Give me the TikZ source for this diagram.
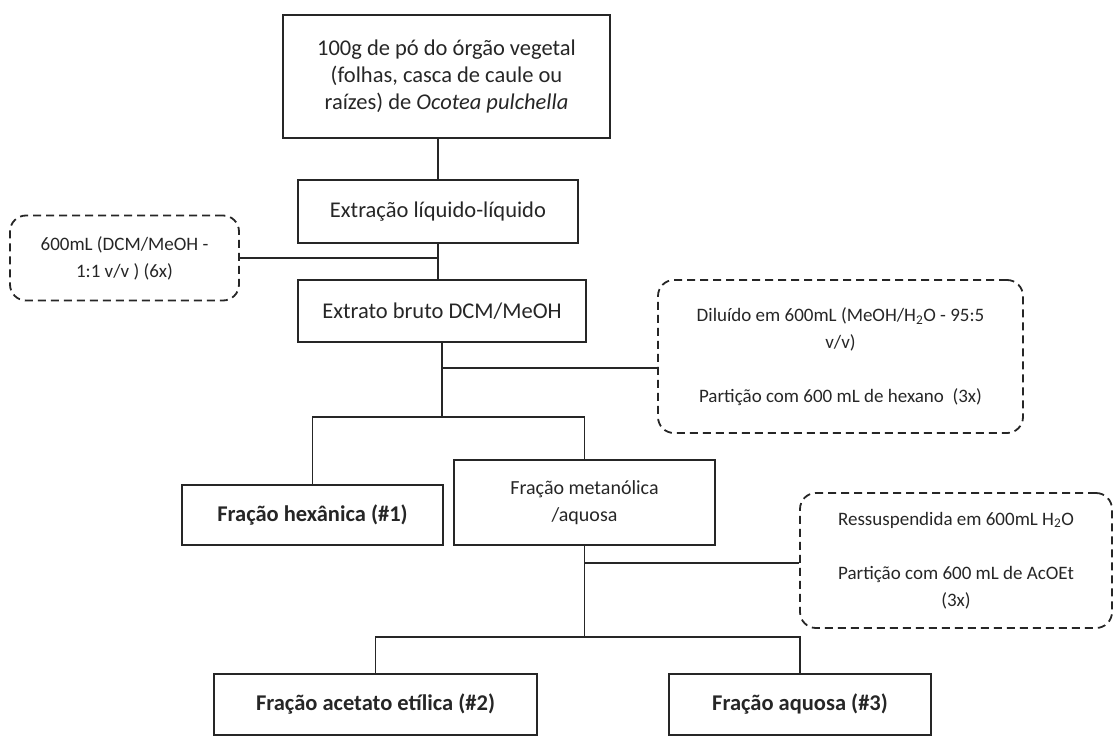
\documentclass[tikz,border=0pt]{standalone}
\usepackage{fontspec}
\setmainfont{Carlito}
\usetikzlibrary{positioning,calc}
\tikzset{
  stepbox/.style={draw=black!85, line width=1.4pt, align=center, inner sep=0pt,
    text=black!85, font=\fontsize{22.5}{27}\selectfont},
  notebox/.style={draw=black!85, line width=1.8pt, dash pattern=on 8pt off 5pt,
    rounded corners=16pt, align=center, inner sep=0pt, text=black!85,
    font=\fontsize{19}{27}\selectfont},
  link/.style={draw=black!85, line width=1.4pt},
}

\begin{document}
\begin{tikzpicture}[x=1pt, y=-1pt]
    \useasboundingbox (0,0) rectangle (1114,736);
    % main steps
    \node[stepbox, minimum width=327pt, minimum height=123pt] (sample) at (446.5,76.5)
      {100g de pó do órgão vegetal\\(folhas, casca de caule ou\\raízes) de \textit{Ocotea pulchella}};
    \node[stepbox, minimum width=280pt, minimum height=63pt] (extr) at (438,211.5)
      {Extração líquido-líquido};
    \node[stepbox, minimum width=288pt, minimum height=62pt] (crude) at (442,311)
      {Extrato bruto DCM/MeOH};
    \node[stepbox, minimum width=261pt, minimum height=60pt] (hex) at (312.5,515)
      {\textbf{Fração hexânica (\#1)}};
    \node[stepbox, minimum width=261pt, minimum height=85pt,
      font=\fontsize{20}{27}\selectfont] (meth) at (584.5,502.5)
      {Fração metanólica\\/aquosa};
    \node[stepbox, minimum width=323pt, minimum height=61pt] (acet) at (375.5,704.5)
      {\textbf{Fração acetato etílica (\#2)}};
    \node[stepbox, minimum width=262pt, minimum height=61pt] (aq) at (800,704.5)
      {\textbf{Fração aquosa (\#3)}};
    % conditions
    \node[notebox, minimum width=229pt, minimum height=85pt] (solv) at (124.5,258)
      {600mL (DCM/MeOH -\\1:1 v/v ) (6x)};
    \node[notebox, minimum width=365pt, minimum height=153pt] (part1) at (840.5,356.5)
      {Diluído em 600mL (MeOH/H\textsubscript{2}O - 95:5\\v/v)\\[27pt]Partição com 600 mL de hexano\ \ (3x)};
    \node[notebox, minimum width=312pt, minimum height=135pt] (part2) at (956,560.5)
      {Ressuspendida em 600mL H\textsubscript{2}O\\[27pt]Partição com 600 mL de AcOEt\\(3x)};
    % junctions
    \coordinate (j2) at (442,368);
    \coordinate (b1) at (442,417);
    \coordinate (j3) at (584.5,563);
    \coordinate (b2) at (584.5,637);
    % connectors
    \draw[link] (extr.north |- sample.south) -- (extr.north);
    \draw[link] (extr.south) -- (extr.south |- crude.north);
    \draw[link] (solv.east) -- (solv.east -| extr.south);
    \draw[link] (crude.south) -- (b1);
    \draw[link] (j2) -- (j2 -| part1.west);
    \draw[link] (hex.north) |- (b1) -| (meth.north);
    \draw[link] (meth.south) -- (b2);
    \draw[link] (j3) -- (j3 -| part2.west);
    \draw[link] (acet.north) |- (b2) -| (aq.north);
\end{tikzpicture}
\end{document}
